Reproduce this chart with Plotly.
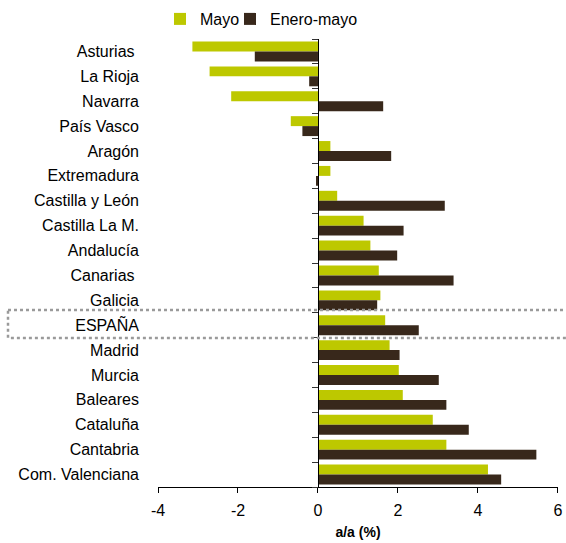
import plotly.graph_objects as go

regions = ["Asturias ", "La Rioja", "Navarra", "País Vasco", "Aragón", "Extremadura",
           "Castilla y León", "Castilla La M.", "Andalucía", "Canarias ", "Galicia",
           "ESPAÑA", "Madrid", "Murcia", "Baleares", "Cataluña", "Cantabria",
           "Com. Valenciana"]
mayo = [-3.14, -2.71, -2.17, -0.68, 0.31, 0.31, 0.48, 1.14, 1.31, 1.52, 1.56,
        1.68, 1.79, 2.02, 2.12, 2.87, 3.21, 4.25]
enero_mayo = [-1.58, -0.22, 1.63, -0.39, 1.83, -0.03, 3.17, 2.14, 1.98, 3.39, 1.48,
              2.52, 2.04, 3.02, 3.21, 3.77, 5.46, 4.58]
x_ticks = [-4, -2, 0, 2, 4, 6]

GREEN = "#BDC800"
BROWN = "#38281B"
FONT = "Liberation Sans"

fig = go.Figure()
fig.add_trace(go.Bar(y=regions, x=mayo, orientation="h", name="Mayo", legend="legend",
                     marker=dict(color=GREEN, line=dict(width=0))))
fig.add_trace(go.Bar(y=regions, x=enero_mayo, orientation="h", name="Enero-mayo",
                     legend="legend2",
                     marker=dict(color=BROWN, line=dict(width=0))))

n = len(regions)
boundaries = [i - 0.5 for i in range(n + 1)]

legend_common = dict(orientation="h", xanchor="left", y=1 - 19 / 543, yanchor="middle",
                     yref="container", xref="container", font=dict(size=16),
                     itemwidth=30, bgcolor="rgba(0,0,0,0)")

fig.update_layout(
    width=566, height=543,
    margin=dict(l=158, r=8, t=39, b=56, autoexpand=False),
    paper_bgcolor="white", plot_bgcolor="white",
    barmode="group", bargap=0.2, bargroupgap=0,
    font=dict(family=FONT, size=16, color="#000000"),
    showlegend=True,
    legend=dict(legend_common, x=(180 - 20) / 566),
    legend2=dict(legend_common, x=(250 - 20) / 566),
    xaxis=dict(range=[-4, 6.001], tickvals=x_ticks, ticktext=[str(v) for v in x_ticks],
               automargin=False, ticklabeloverflow="allow", ticklabelstandoff=4,
               showgrid=False, zeroline=False, showline=True, linecolor="#000000",
               linewidth=1, ticks="outside", ticklen=5, tickcolor="#000000",
               tickfont=dict(size=16),
               title=dict(text="<b>a/a (%)</b>", font=dict(size=14), standoff=8)),
    yaxis=dict(type="category", categoryarray=regions, autorange="reversed",
               automargin=False,
               showgrid=False, zeroline=False, showline=False, ticks="",
               ticklabelstandoff=18, tickfont=dict(size=16)),
    yaxis2=dict(overlaying="y", anchor="free", position=0.4, range=[n - 0.5, -0.5],
                automargin=False,
                showgrid=False, zeroline=False, showline=True, linecolor="#000000",
                linewidth=1, ticks="outside", ticklen=6, tickcolor="#333333",
                tickvals=boundaries, showticklabels=False),
)

# invisible trace to activate the second y axis (used for boundary ticks on x=0)
fig.add_trace(go.Scatter(x=[0], y=[0], yaxis="y2", mode="markers",
                         marker=dict(opacity=0), showlegend=False, hoverinfo="skip"))

esp = regions.index("ESPAÑA")
fig.add_shape(type="rect", xref="paper", yref="y2",
              x0=-0.375, x1=1.03, y0=esp - 0.61, y1=esp + 0.51,
              line=dict(color="#9a9a9a", width=2.5, dash="dot"),
              fillcolor="rgba(0,0,0,0)", layer="above")

fig.write_html("out.html", config={"displayModeBar": False},
               post_script="document.body.style.margin='0';document.body.style.overflow='hidden';")
